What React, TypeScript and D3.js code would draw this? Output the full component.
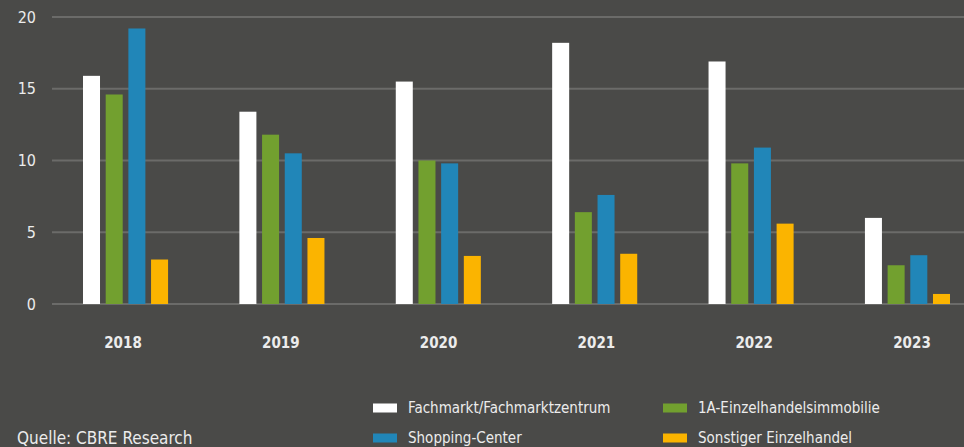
import React from 'react';
import * as d3 from 'd3';

const years = ['2018', '2019', '2020', '2021', '2022', '2023'];
const seriesNames = [
  'Fachmarkt/Fachmarktzentrum',
  '1A-Einzelhandelsimmobilie',
  'Shopping-Center',
  'Sonstiger Einzelhandel',
];
const fachmarkt = [15.9, 13.4, 15.5, 18.2, 16.9, 6.0];
const einzelhandel1A = [14.6, 11.8, 10.0, 6.4, 9.8, 2.7];
const shopping = [19.2, 10.5, 9.8, 7.6, 10.9, 3.4];
const sonstiger = [3.1, 4.6, 3.35, 3.5, 5.6, 0.7];
const yTicks = [0, 5, 10, 15, 20];
const colors = ['#ffffff', '#72a02f', '#2186b8', '#fbb400'];

const values = [fachmarkt, einzelhandel1A, shopping, sonstiger];

const W = 964;
const H = 447;
const font = '"DejaVu Sans Condensed", "DejaVu Sans", sans-serif';

export default function App() {
  const y = d3.scaleLinear().domain([0, 20]).range([304, 17]);
  const x = d3.scaleBand().domain(years).range([83, 950]).paddingInner(0.456).paddingOuter(0);
  const xInner = d3
    .scaleBand()
    .domain(seriesNames)
    .range([0, x.bandwidth()])
    .paddingInner(0.25);
  const xLabel = d3.scalePoint().domain(years).range([123, 912]);

  const legendRows = [
    [seriesNames[0], seriesNames[1]],
    [seriesNames[2], seriesNames[3]],
  ];
  const legendX = [373, 663];
  const legendY = [408, 438];

  return (
    <svg
      width={W}
      height={H}
      style={{ position: 'absolute', left: 0, top: 0, background: '#4a4a48' }}
    >
      <rect x={0} y={0} width={W} height={H} fill="#4a4a48" />
      {yTicks.map((t) => (
        <g key={t}>
          <line x1={52} x2={W} y1={y(t)} y2={y(t)} stroke="#6b6b69" strokeWidth={2} />
          <text
            x={36}
            y={y(t)}
            dy="0.35em"
            textAnchor="end"
            fill="#ececec"
            fontSize={16}
            fontFamily={font}
          >
            {t}
          </text>
        </g>
      ))}
      {years.map((yr, i) => (
        <g key={yr} transform={`translate(${x(yr)},0)`}>
          {seriesNames.map((s, j) => (
            <rect
              key={s}
              x={xInner(s)}
              y={y(values[j][i])}
              width={xInner.bandwidth()}
              height={y(0) - y(values[j][i])}
              fill={colors[j]}
            />
          ))}
        </g>
      ))}
      {years.map((yr) => (
        <text
          key={yr}
          x={xLabel(yr)}
          y={343}
          dy="0.35em"
          textAnchor="middle"
          fill="#ececec"
          fontSize={15}
          fontWeight="bold"
          fontFamily={font}
        >
          {yr}
        </text>
      ))}
      {legendRows.map((row, r) =>
        row.map((name, c) => {
          const j = seriesNames.indexOf(name);
          return (
            <g key={name} transform={`translate(${legendX[c]},${legendY[r]})`}>
              <rect x={0} y={-4.5} width={24} height={9} fill={colors[j]} />
              <text x={35} y={0} dy="0.35em" fill="#ececec" fontSize={15} fontFamily={font}>
                {name}
              </text>
            </g>
          );
        })
      )}
      <text x={17} y={438} dy="0.35em" fill="#ececec" fontSize={17} fontFamily={font}>
        Quelle: CBRE Research
      </text>
    </svg>
  );
}
